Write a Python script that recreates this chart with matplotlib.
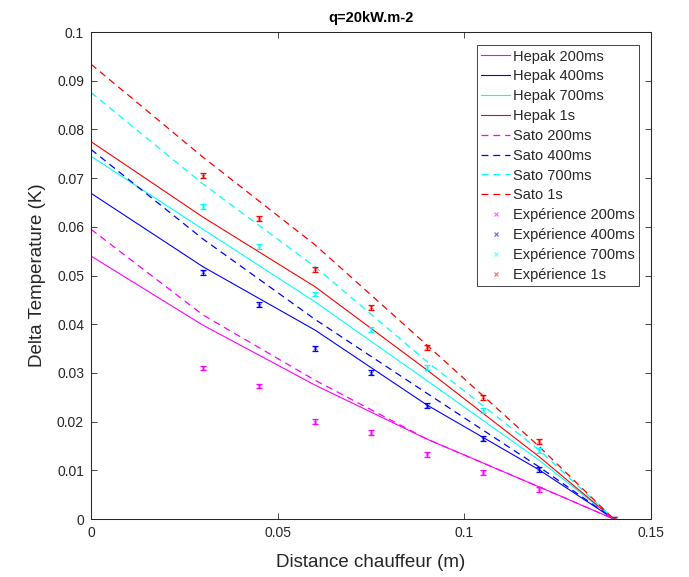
import matplotlib
matplotlib.use("Agg")
from matplotlib import pyplot as plt
import numpy as np

# model curves, sampled along the distance (m)
x_model = [0, 0.03, 0.06, 0.09, 0.12, 0.14]
hepak_200 = [0.0540, 0.0398, 0.0275, 0.0164, 0.0066, 0]
hepak_400 = [0.0669, 0.0518, 0.0388, 0.0234, 0.0101, 0]
hepak_700 = [0.0745, 0.0595, 0.0446, 0.0284, 0.0121, 0]
hepak_1s = [0.0775, 0.0620, 0.0477, 0.0306, 0.0128, 0]
sato_200 = [0.0595, 0.0419, 0.0285, 0.0164, 0.0066, 0]
sato_400 = [0.0759, 0.0575, 0.0410, 0.0258, 0.0107, 0]
sato_700 = [0.0876, 0.0688, 0.0518, 0.0323, 0.0142, 0]
sato_1s = [0.0934, 0.0743, 0.0563, 0.0357, 0.0149, 0]

# measurements
x_exp = [0.03, 0.045, 0.06, 0.075, 0.09, 0.105, 0.12, 0.14]
exp_200 = [0.0310, 0.0273, 0.0200, 0.0177, 0.0133, 0.0095, 0.0061, 0]
exp_400 = [0.0507, 0.0440, 0.0351, 0.0300, 0.0233, 0.0165, 0.0102, 0]
exp_700 = [0.0641, 0.0560, 0.0462, 0.0390, 0.0311, 0.0222, 0.0140, 0]
exp_1s = [0.0705, 0.0617, 0.0513, 0.0435, 0.0353, 0.0250, 0.0160, 0]
exp_err = 0.0005

labels_t = ["200ms", "400ms", "700ms", "1s"]
colors = ["#ff00ff", "#0000ff", "#00ffff", "#ff0000"]

plt.rcParams['font.family'] = ['Liberation Sans', 'DejaVu Sans']
plt.rcParams['lines.scale_dashes'] = False
axcol = (0.15, 0.15, 0.15)

fig = plt.figure(figsize=(6.89, 5.77), dpi=100, facecolor="white")
ax = fig.add_axes([0.132, 0.1005, 0.813, 0.844])

for y, c, t in zip([hepak_200, hepak_400, hepak_700, hepak_1s], colors, labels_t):
    ax.plot(x_model, y, color=c, lw=0.8, label="Hepak " + t)
for y, c, t in zip([sato_200, sato_400, sato_700, sato_1s], colors, labels_t):
    ax.plot(x_model, y, color=c, lw=0.9, dashes=(5, 3.5), label="Sato " + t)
for y, c, t in zip([exp_200, exp_400, exp_700, exp_1s], colors, labels_t):
    ax.errorbar(x_exp, y, yerr=exp_err, fmt="none", ecolor=c, elinewidth=0.9,
                capsize=2.5, capthick=0.9)
    ax.plot(x_exp, y, "x", color=c, ms=3.5, mew=0.8, alpha=0.6,
            label="Expérience " + t)

ax.set_xlim(0, 0.15)
ax.set_ylim(0, 0.1)
ax.set_xticks([0, 0.05, 0.1, 0.15])
ax.set_xticklabels(["0", "0.05", "0.1", "0.15"])
ax.set_yticks(np.arange(0, 0.101, 0.01))
ax.set_yticklabels(["0", "0.01", "0.02", "0.03", "0.04", "0.05", "0.06",
                    "0.07", "0.08", "0.09", "0.1"])
ax.tick_params(direction="in", length=4, width=0.6, colors=axcol,
               labelsize=10, top=True, right=True, pad=5)
for s in ax.spines.values():
    s.set_color(axcol)
    s.set_linewidth(0.75)

ax.set_xlabel("Distance chauffeur (m)", fontsize=13.5, color=axcol, labelpad=10)
ax.set_ylabel("Delta Temperature (K)", fontsize=13.5, color=axcol, labelpad=8)
ax.set_title("q=20kW.m-2", fontsize=10.5, fontweight="bold", color="black", pad=7)

leg = ax.legend(loc="upper right", bbox_to_anchor=(0.979, 0.973), fontsize=10.5,
                handlelength=2.0, handletextpad=0.2, labelspacing=0.4,
                borderpad=0.3, borderaxespad=0, fancybox=False,
                framealpha=1, edgecolor=axcol)
leg.get_frame().set_linewidth(0.6)
for txt in leg.get_texts():
    txt.set_color(axcol)

plt.savefig("out.png", dpi=100)
plt.close()
